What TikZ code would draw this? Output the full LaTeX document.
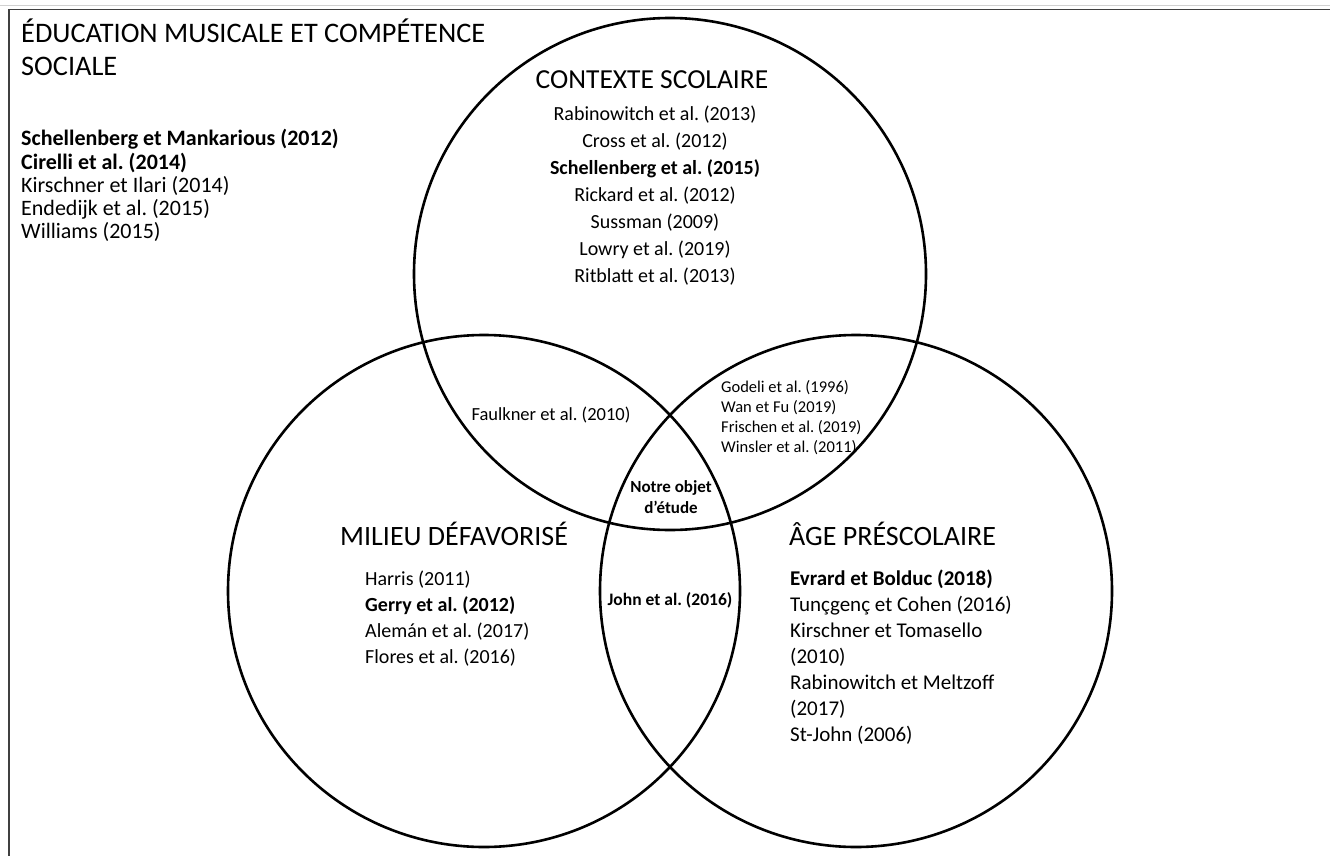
\documentclass[tikz,border=0pt]{standalone}
\usepackage{fontspec}
\setmainfont{Carlito}
\frenchspacing
\begin{document}
\frenchspacing
\begin{tikzpicture}[x=1pt,y=-1pt,
  ring/.style={circle, draw=black, line width=2.6pt, minimum size=512pt, inner sep=0pt},
  head/.style={inner sep=0pt, font=\fontsize{28}{33}\selectfont},
  refl/.style={inner sep=0pt, font=\fontsize{20}{24}\selectfont},
  refg/.style={inner sep=0pt, font=\fontsize{22}{26}\selectfont},
  small/.style={inner sep=0pt, font=\fontsize{16.5}{19}\selectfont},
  lens/.style={inner sep=0pt, font=\fontsize{17}{20}\selectfont\bfseries},
  frame/.style={draw=black!75, line width=1.5pt}
]
\useasboundingbox (0,0) rectangle (1330,856);
\fill[white] (0,0) rectangle (1330,856);
\draw[black!18, line width=1pt] (0,5.5) -- (1330,5.5);
\coordinate (fTL) at (9,9.5);
\coordinate (fTR) at (1330,9.5);
\coordinate (fBL) at (9,856);
\draw[frame] (fTR) -- (fTL) -- (fBL);

% circles
\node[ring] (ctx) at (670,274) {};
\node[ring] (mil) at (484,591) {};
\node[ring] (age) at (856,591) {};

% title and general list
\node[head, font=\fontsize{28.3}{33}\selectfont, anchor=base west] (t1) at (21,43) {ÉDUCATION MUSICALE ET COMPÉTENCE};
\node[head, font=\fontsize{28.3}{33}\selectfont, anchor=base west] (t2) at (21,76) {SOCIALE};
\foreach \n/\y/\txt in {g1/146/{\textbf{Schellenberg et Mankarious (2012)}},
                        g2/169/{\textbf{Cirelli et al. (2014)}},
                        g3/192/{Kirschner et Ilari (2014)},
                        g4/215/{Endedijk et al. (2015)},
                        g5/238/{Williams (2015)}}
  \node[refg, anchor=base west] (\n) at (21,\y) {\txt};

% contexte scolaire
\node[head, font=\fontsize{27.5}{32}\selectfont, anchor=base] (hctx) at (652,89) {CONTEXTE SCOLAIRE};
\foreach \n/\y/\txt in {c1/121/{Rabinowitch et al. (2013)},
                        c2/147/{Cross et al. (2012)},
                        c3/174/{\textbf{Schellenberg et al. (2015)}},
                        c4/201/{Rickard et al. (2012)},
                        c5/228/{Sussman (2009)},
                        c6/255/{Lowry et al. (2019)},
                        c7/282/{Ritblatt et al. (2013)}}
  \node[refl, anchor=base] (\n) at (655,\y) {\txt};

% milieu defavorise
\node[head, anchor=base west] (hmil) at (340,545) {MILIEU DÉFAVORISÉ};
\foreach \n/\y/\txt in {m1/585/{Harris (2011)},
                        m2/611/{\textbf{Gerry et al. (2012)}},
                        m3/637/{Alemán et al. (2017)},
                        m4/663/{Flores et al. (2016)}}
  \node[refl, anchor=base west] (\n) at (365,\y) {\txt};

% age prescolaire
\node[head, anchor=base west] (hage) at (789,545) {ÂGE PRÉSCOLAIRE};
\foreach \n/\y/\txt in {a1/585/{\textbf{Evrard et Bolduc (2018)}},
                        a2/611/{Tunçgenç et Cohen (2016)},
                        a3/637/{Kirschner et Tomasello},
                        a4/663/{(2010)},
                        a5/689/{Rabinowitch et Meltzoff},
                        a6/715/{(2017)},
                        a7/741/{St-John (2006)}}
  \node[refl, font=\fontsize{21}{25}\selectfont, anchor=base west] (\n) at (790,\y) {\txt};

% intersections
\node[inner sep=0pt, font=\fontsize{18.5}{22}\selectfont, anchor=base] (fa) at (551,420) {Faulkner et al. (2010)};
\foreach \n/\y/\txt in {i1/392/{Godeli et al. (1996)},
                        i2/412/{Wan et Fu (2019)},
                        i3/432/{Frischen et al. (2019)},
                        i4/452/{Winsler et al. (2011)}}
  \node[small, anchor=base west] (\n) at (721,\y) {\txt};
\node[lens, anchor=base] (n1) at (671,492) {Notre objet};
\node[lens, anchor=base] (n2) at (671,513) {d’étude};
\node[lens, font=\fontsize{17.5}{20}\selectfont\bfseries, anchor=base] (jo) at (670,605) {John et al. (2016)};
\end{tikzpicture}
\end{document}
